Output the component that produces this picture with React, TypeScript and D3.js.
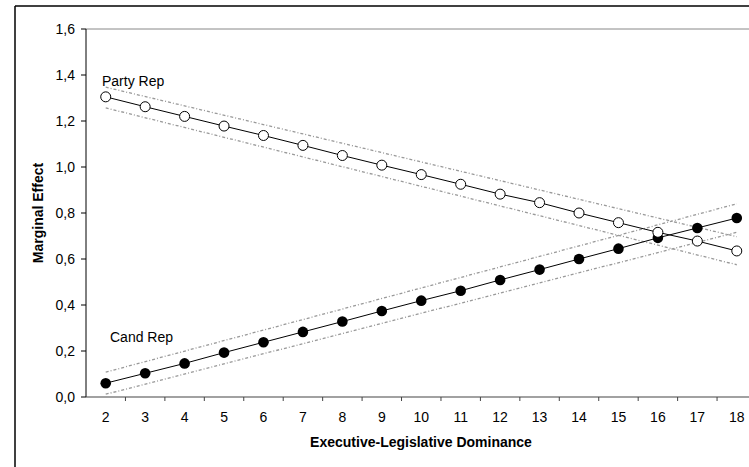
import React from "react";
import * as d3 from "d3";

const categories = [2, 3, 4, 5, 6, 7, 8, 9, 10, 11, 12, 13, 14, 15, 16, 17, 18];
const partyRep = [1.305, 1.262, 1.22, 1.178, 1.137, 1.094, 1.05, 1.008, 0.967, 0.925, 0.882, 0.845, 0.8, 0.758, 0.716, 0.678, 0.635];
const candRep = [0.06, 0.103, 0.146, 0.193, 0.238, 0.283, 0.328, 0.374, 0.419, 0.462, 0.509, 0.554, 0.6, 0.645, 0.692, 0.735, 0.778];
const ciX = [2, 18];
const partyUpper = [1.347, 0.697];
const partyLower = [1.257, 0.575];
const candUpper = [0.108, 0.84];
const candLower = [0.012, 0.716];
const yTicks = [0, 0.2, 0.4, 0.6, 0.8, 1.0, 1.2, 1.4, 1.6];

const W = 749;
const H = 467;
const left = 86;
const right = 756.5;
const top = 29;
const bottom = 397;

export default function App() {
  const x = d3.scaleBand<number>().domain(categories).range([left, right]).padding(0);
  const cx = (v: number) => (x(v) as number) + x.bandwidth() / 2;
  const y = d3.scaleLinear().domain([0, 1.6]).range([bottom, top]);
  const fmt = (v: number) => v.toFixed(1).replace(".", ",");
  const line = d3
    .line<[number, number]>()
    .x((d) => cx(d[0]))
    .y((d) => y(d[1]));
  const ci = (arr: number[]) => line(ciX.map((c, i) => [c, arr[i]] as [number, number])) as string;
  const font = "'Liberation Sans', Arial, sans-serif";
  const boundaries = categories.slice(1).map((c) => x(c) as number);
  const fs = 14;

  return (
    <svg width={W} height={H} style={{ position: "absolute", left: 0, top: 0, background: "#fff" }} fontFamily={font}>
      <rect x={0} y={0} width={W} height={H} fill="#fff" />
      {/* outer frame */}
      <line x1={15} y1={6} x2={W} y2={6} stroke="#000" strokeWidth={1.5} />
      <line x1={15} y1={6} x2={15} y2={H} stroke="#000" strokeWidth={1.5} />
      {/* plot top border */}
      <line x1={left} y1={top} x2={W} y2={top} stroke="#888" strokeWidth={1} />
      {/* CI lines */}
      {[partyUpper, partyLower, candUpper, candLower].map((arr, i) => (
        <path key={i} d={ci(arr)} fill="none" stroke="#999" strokeWidth={1.3} strokeDasharray="3,2,1,2" />
      ))}
      {/* main lines */}
      <path d={line(categories.map((c, i) => [c, candRep[i]] as [number, number])) as string} fill="none" stroke="#000" strokeWidth={1} />
      <path d={line(categories.map((c, i) => [c, partyRep[i]] as [number, number])) as string} fill="none" stroke="#000" strokeWidth={1} />
      {categories.map((c, i) => (
        <circle key={"c" + c} cx={cx(c)} cy={y(candRep[i])} r={5.3} fill="#000" />
      ))}
      {categories.map((c, i) => (
        <circle key={"p" + c} cx={cx(c)} cy={y(partyRep[i])} r={5} fill="#fff" stroke="#000" strokeWidth={1} />
      ))}
      {/* y axis */}
      <line x1={left} y1={top} x2={left} y2={bottom} stroke="#000" strokeWidth={1} />
      {yTicks.map((t) => (
        <g key={t}>
          <line x1={left - 5} x2={left} y1={y(t)} y2={y(t)} stroke="#000" />
          <text x={75} y={y(t)} dy="0.35em" textAnchor="end" fontSize={fs} fill="#000">
            {fmt(t)}
          </text>
        </g>
      ))}
      {/* x axis */}
      <line x1={left} y1={bottom} x2={W} y2={bottom} stroke="#444" strokeWidth={1.2} />
      {boundaries.map((b, i) => (
        <line key={i} x1={b} x2={b} y1={bottom} y2={bottom + 4} stroke="#444" />
      ))}
      {categories.map((c) => (
        <text key={c} x={cx(c)} y={422} textAnchor="middle" fontSize={fs} fill="#000">
          {c}
        </text>
      ))}
      <text x={421} y={447} textAnchor="middle" fontSize={fs} fontWeight="bold" fill="#000">
        Executive-Legislative Dominance
      </text>
      <text transform={`translate(43,${(top + bottom) / 2}) rotate(-90)`} textAnchor="middle" fontSize={fs} fontWeight="bold" fill="#000">
        Marginal Effect
      </text>
      <text x={102} y={86} fontSize={fs} fill="#000">Party Rep</text>
      <text x={110} y={342} fontSize={fs} fill="#000">Cand Rep</text>
    </svg>
  );
}
